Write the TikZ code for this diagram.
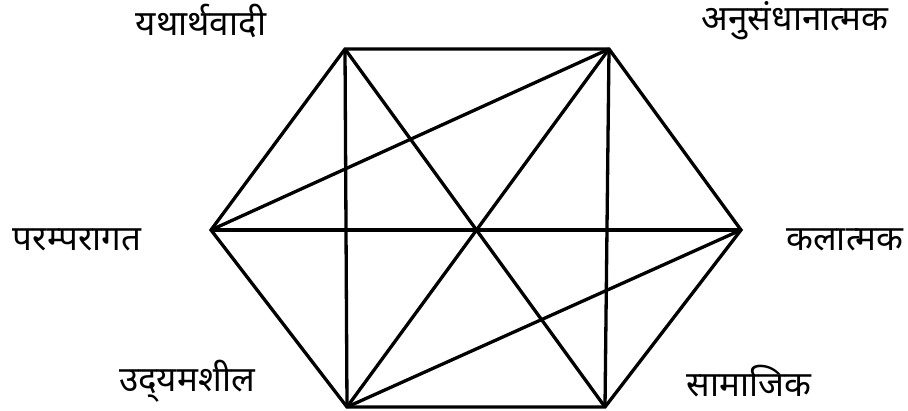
\documentclass[tikz,border=0pt]{standalone}
\usepackage{fontspec}
\newfontfamily\deva[Script=Devanagari]{Noto Sans}
\usetikzlibrary{positioning}
\tikzset{
  side/.style={line width=3.3pt, color=black, line join=miter},
  label/.style={font=\deva\fontsize{35}{40}\selectfont, inner sep=0pt}
}
\begin{document}
\begin{tikzpicture}[x=1pt, y=-1pt]
  \useasboundingbox (0,0) rectangle (908,411);
  % corners of the hexagon
  \coordinate (tl) at (345,49);
  \coordinate (tr) at (609,49);
  \coordinate (r) at (741,230);
  \coordinate (br) at (605,407);
  \coordinate (bl) at (347,407);
  \coordinate (l) at (211,230);
  % outline
  \draw[side] (tl) -- (tr) -- (r) -- (br) -- (bl) -- (l) -- cycle;
  % diagonals
  \draw[side] (tl) -- (bl);
  \draw[side] (tl) -- (br);
  \draw[side] (tr) -- (l);
  \draw[side] (tr) -- (bl);
  \draw[side] (tr) -- (br);
  \draw[side] (l) -- (r);
  \draw[side] (r) -- (bl);
  % labels
  \node[label] (real) at (201,21) {यथार्थवादी};
  \node[label] (res) at (795,21) {अनुसंधानात्मक};
  \node[label] (trad) at (77,240) {परम्परागत};
  \node[label] (art) at (845,240) {कलात्मक};
  \node[label] (ent) at (187,381) {उद्^^^^200cयमशील};
  \node[label] (soc) at (749,381) {सामाजिक};
\end{tikzpicture}
\end{document}
